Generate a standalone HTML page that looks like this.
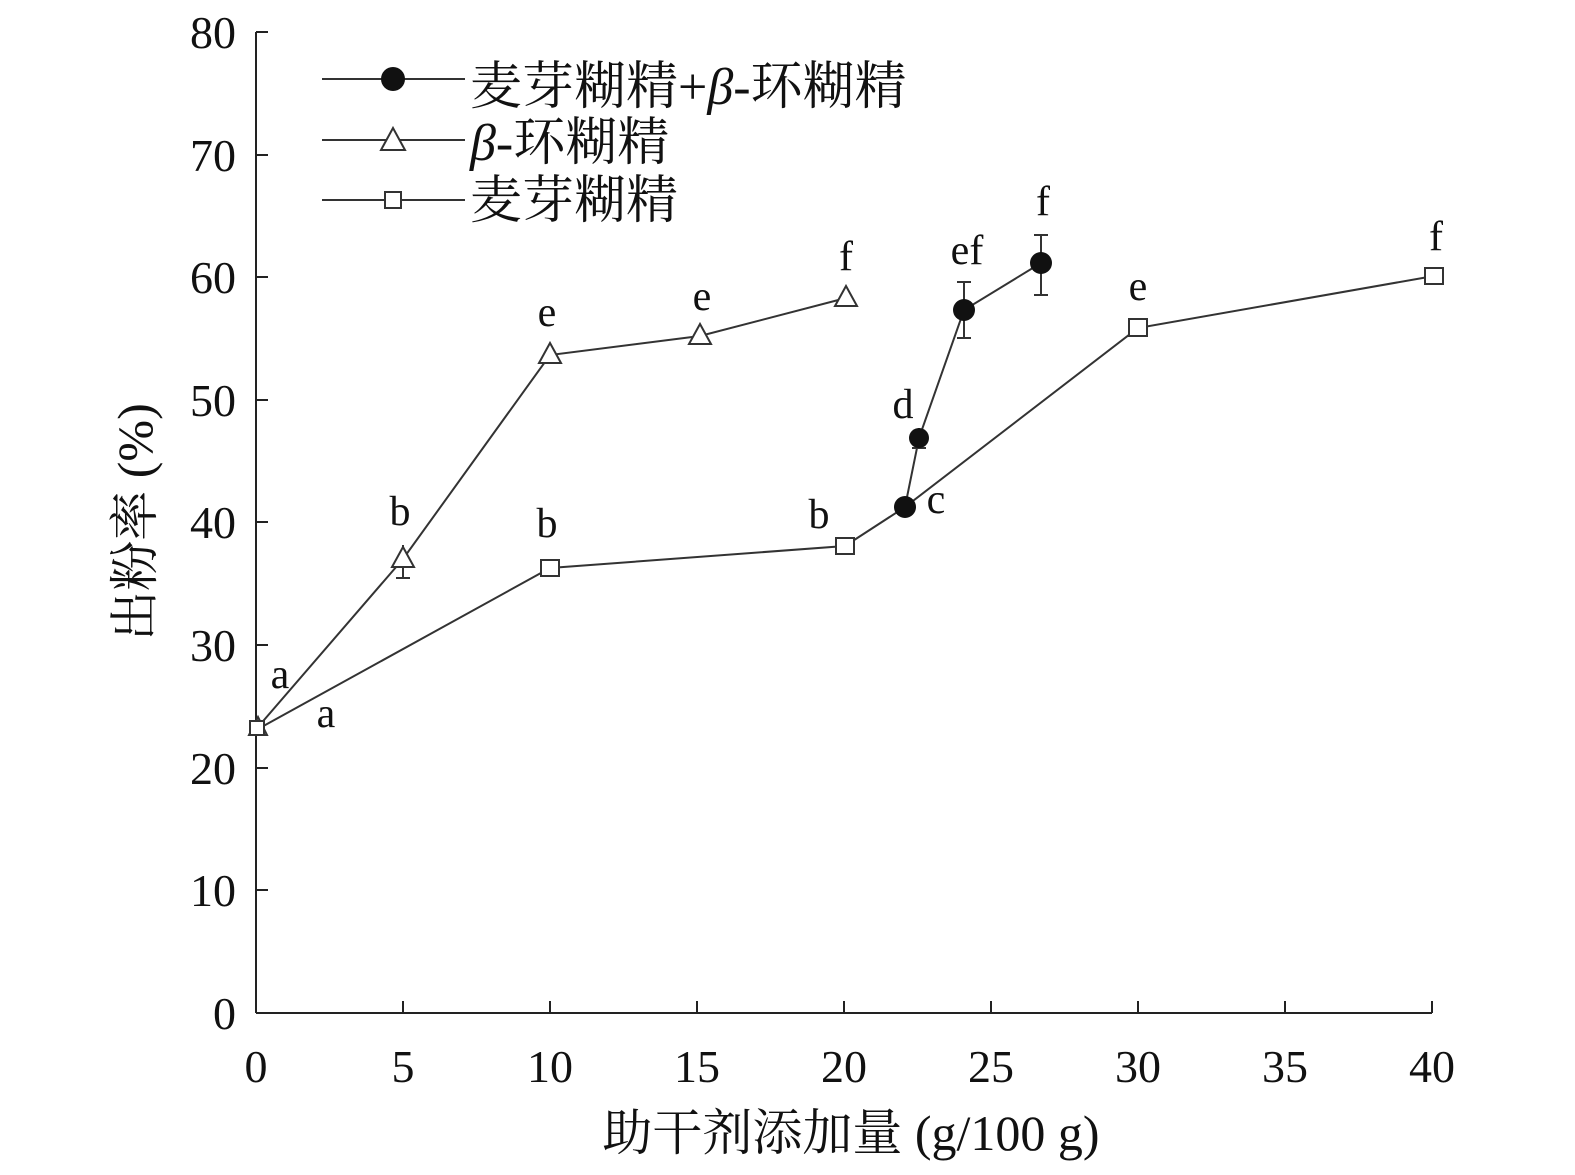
<!DOCTYPE html>
<html><head><meta charset="utf-8"><style>
html,body{margin:0;padding:0;background:#fff;overflow:hidden;width:1575px;height:1175px}
svg{display:block}
svg text{font-family:"Liberation Serif","Noto Serif CJK SC",serif;fill:#111}
</style></head><body>
<svg width="1575" height="1175" viewBox="0 0 1575 1175" xmlns="http://www.w3.org/2000/svg">
<g stroke="#222" stroke-width="2" fill="none">
<line x1="256" y1="32" x2="256" y2="1013"/>
<line x1="256" y1="1013" x2="1432" y2="1013"/>
<line x1="256" y1="32" x2="268" y2="32"/><line x1="256" y1="155" x2="268" y2="155"/><line x1="256" y1="277" x2="268" y2="277"/><line x1="256" y1="400" x2="268" y2="400"/><line x1="256" y1="522" x2="268" y2="522"/><line x1="256" y1="645" x2="268" y2="645"/><line x1="256" y1="768" x2="268" y2="768"/><line x1="256" y1="890" x2="268" y2="890"/>
<line x1="403" y1="1013" x2="403" y2="1001"/><line x1="550" y1="1013" x2="550" y2="1001"/><line x1="697" y1="1013" x2="697" y2="1001"/><line x1="844" y1="1013" x2="844" y2="1001"/><line x1="991" y1="1013" x2="991" y2="1001"/><line x1="1138" y1="1013" x2="1138" y2="1001"/><line x1="1285" y1="1013" x2="1285" y2="1001"/><line x1="1432" y1="1013" x2="1432" y2="1001"/>
</g>
<g font-size="46" text-anchor="end">
<text x="236" y="48">80</text><text x="236" y="171">70</text><text x="236" y="293">60</text><text x="236" y="416">50</text><text x="236" y="538">40</text><text x="236" y="661">30</text><text x="236" y="784">20</text><text x="236" y="906">10</text><text x="236" y="1029">0</text>
</g>
<g font-size="46" text-anchor="middle">
<text x="256" y="1082">0</text><text x="403" y="1082">5</text><text x="550" y="1082">10</text><text x="697" y="1082">15</text><text x="844" y="1082">20</text><text x="991" y="1082">25</text><text x="1138" y="1082">30</text><text x="1285" y="1082">35</text><text x="1432" y="1082">40</text>
</g>
<g font-size="50" text-anchor="middle">
<text x="851" y="1150">助干剂添加量 (g/100 g)</text>
<text transform="translate(152,522) rotate(-90)">出粉率 (%)</text>
</g>
<g stroke="#333" stroke-width="2" fill="none">
<polyline points="258,727 403,559 550,355 700,336 846,298"/>
<polyline points="258,729 550,568 845,546 905,507 1138,328 1434,276"/>
<polyline points="905,507 919,438 964,310 1041,263"/>
<line x1="403" y1="545" x2="403" y2="578"/><line x1="396" y1="578" x2="410" y2="578"/>
<line x1="964" y1="282" x2="964" y2="338"/><line x1="957" y1="282" x2="971" y2="282"/><line x1="957" y1="338" x2="971" y2="338"/>
<line x1="1041" y1="235" x2="1041" y2="295"/><line x1="1034" y1="235" x2="1048" y2="235"/><line x1="1034" y1="295" x2="1048" y2="295"/>
<line x1="919" y1="428" x2="919" y2="448"/><line x1="912" y1="448" x2="926" y2="448"/>
</g>
<g stroke="#333" stroke-width="2" fill="#fff">
<polygon points="403,547 392,567 414,567"/><polygon points="550,343 539,363 561,363"/><polygon points="700,324 689,344 711,344"/><polygon points="846,286 835,306 857,306"/><polygon points="258,717 249,735 267,735"/>
<rect x="250" y="721" width="14" height="14"/><rect x="541" y="560" width="18" height="16"/><rect x="836" y="538" width="18" height="16"/><rect x="1129" y="319" width="18" height="17"/><rect x="1425" y="268" width="18" height="16"/>
</g>
<g fill="#111">
<circle cx="905" cy="507" r="11"/><circle cx="919" cy="438" r="10"/><circle cx="964" cy="310" r="11"/><circle cx="1041" cy="263" r="11"/>
</g>
<g font-size="42" text-anchor="middle">
<text x="280" y="688">a</text><text x="326" y="727">a</text><text x="400" y="525">b</text><text x="547" y="537">b</text><text x="547" y="326">e</text><text x="702" y="310">e</text><text x="846" y="270">f</text><text x="819" y="528">b</text><text x="936" y="513">c</text><text x="903" y="418">d</text><text x="967" y="264">ef</text><text x="1043" y="215">f</text><text x="1138" y="300">e</text><text x="1436" y="250">f</text>
</g>
<g stroke="#333" stroke-width="2" fill="none">
<line x1="322" y1="79" x2="465" y2="79"/><line x1="322" y1="140" x2="465" y2="140"/><line x1="322" y1="200" x2="465" y2="200"/>
</g>
<circle cx="393" cy="79" r="12" fill="#111"/>
<polygon points="393,128 381,150 405,150" fill="#fff" stroke="#333" stroke-width="2"/>
<rect x="385" y="192" width="16" height="16" fill="#fff" stroke="#333" stroke-width="2"/>
<g font-size="52">
<text x="470" y="104">麦芽糊精+<tspan font-style="italic">β</tspan>-环糊精</text>
<text x="470" y="160"><tspan font-style="italic">β</tspan>-环糊精</text>
<text x="470" y="218">麦芽糊精</text>
</g>
</svg>
</body></html>
